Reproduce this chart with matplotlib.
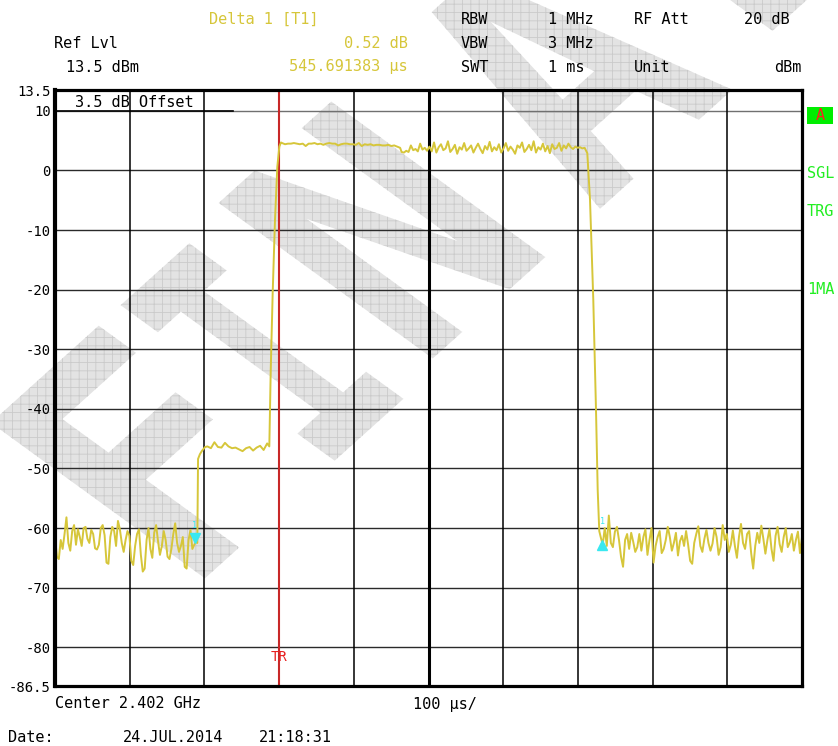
import numpy as np
import matplotlib
matplotlib.use("Agg")
import matplotlib.pyplot as plt
from matplotlib.textpath import TextPath
from matplotlib.patches import PathPatch, Rectangle
from matplotlib.font_manager import FontProperties
from matplotlib.transforms import Affine2D, IdentityTransform

# --- trace data (time in us, level in dBm) ---
noise_left = [-61.5, -64.8, -65.2, -62.0, -63.5, -61.0, -58.2, -62.5, -63.8, -60.5,
              -59.5, -62.8, -60.2, -61.5, -63.0, -60.0, -59.8, -61.8, -62.5, -60.3,
              -61.0, -63.4, -63.6, -62.8, -60.0, -59.5, -61.2, -65.8, -66.0, -61.5,
              -59.8, -60.5, -63.0, -58.8, -60.2, -62.5, -64.0, -62.0, -60.5, -61.3,
              -65.5, -66.2, -63.0, -61.0, -60.2, -64.5, -67.3, -66.8, -62.0, -60.0,
              -63.5, -65.0, -60.8, -59.5, -62.2, -64.5, -63.0, -60.5, -62.0, -64.8,
              -65.2, -63.5, -61.0, -59.2, -62.5, -64.0, -63.0, -61.5, -66.5, -66.8,
              -62.0, -60.3, -63.5, -62.8, -62.3]
step_t = [190.5, 191.5, 194.0, 197.0, 201.0]
step_db = [-62.5, -48.4, -47.6, -47.0, -46.4]
plateau = [-46.3, -46.6, -45.6, -46.4, -46.5, -45.7, -46.3, -46.6, -46.5, -46.8,
           -47.1, -46.6, -46.4, -47.0, -46.5, -46.2, -46.9, -45.8]
rise_t = [286.9, 288.8, 291.4, 294.5, 297.6, 300.3, 302.5]
rise_db = [-46.3, -33.5, -20.6, -8.3, 0.6, 4.0, 4.7]
top_flat = [4.6, 4.4, 4.5, 4.5, 4.6, 4.5, 4.4, 4.5, 4.1, 4.5, 4.5, 4.6, 4.4, 4.5,
            4.3, 4.5, 4.6, 4.5, 4.5, 4.2, 4.4, 4.5, 4.5, 4.4, 4.4, 4.3, 4.6, 4.1,
            4.4, 4.3, 4.4, 4.2, 4.3, 4.3, 4.2, 4.2, 4.3, 4.1, 4.2, 4.0, 3.8]
top_noisy = [3.1, 3.0, 3.3, 3.1, 4.2, 3.4, 3.6, 3.2, 4.5, 3.5, 3.8, 3.3, 4.0, 3.2,
             4.7, 3.0, 3.9, 4.4, 3.4, 3.7, 4.9, 3.1, 3.6, 4.3, 2.8, 3.9, 3.5, 4.6,
             3.3, 3.7, 4.2, 3.0, 3.8, 4.5, 3.6, 2.9, 4.1, 3.5, 4.8, 3.2, 3.9, 3.4,
             4.4, 3.0, 3.7, 4.6, 3.3, 4.0, 3.5, 2.8, 4.2, 3.8, 4.7, 3.1, 3.6, 4.3,
             3.4, 4.9, 3.0, 3.9, 3.5, 4.5, 3.2, 4.1, 2.9, 4.4, 3.6, 3.8, 4.6, 3.3,
             4.2, 3.7, 4.5, 3.9, 3.6, 4.0, 3.8, 3.9, 3.7, 3.8]
fall_t = [712.6, 716.2, 720.6, 724.2, 726.5, 728.6]
fall_db = [2.9, -4.9, -21.7, -40.0, -53.6, -60.5]
noise_right = [-61.5, -62.8, -60.0, -63.0, -57.9, -62.5, -63.2, -60.6, -59.8, -62.0,
               -64.8, -66.5, -62.0, -61.0, -63.5, -60.8, -62.3, -64.0, -63.2, -61.0,
               -63.8, -61.5, -60.2, -64.5, -62.0, -60.0, -65.8, -63.0, -61.5, -60.5,
               -64.2, -63.5, -62.0, -59.8, -61.5, -63.8, -62.5, -60.8, -64.6, -62.2,
               -61.3, -63.0, -60.5, -62.8, -65.5, -66.0, -62.5, -61.0, -59.7, -63.0,
               -64.0, -61.8, -60.3, -62.5, -63.8, -62.6, -60.0, -61.5, -64.5, -63.2,
               -59.5, -62.0, -61.0, -64.0, -62.8, -60.4, -63.0, -65.0, -61.5, -59.3,
               -62.5, -63.5, -61.0, -60.5, -64.2, -66.8, -63.0, -60.8, -62.5, -59.6,
               -61.8, -64.3, -62.0, -60.2, -63.5, -65.5, -61.3, -59.8, -62.7, -64.0,
               -61.5, -60.0, -63.2, -62.4, -61.0, -63.8, -62.0, -60.6, -64.2, -61.5]

marker1_t, marker1_db = 187.0, -62.3
delta_t, delta_db = 545.691383, 0.52
trigger_t = 300.0

ytick_vals = [13.5, 10, 0, -10, -20, -30, -40, -50, -60, -70, -80, -86.5]
ytick_labels = ["13.5", "10", "0", "-10", "-20", "-30", "-40", "-50", "-60", "-70", "-80", "-86.5"]
hgrid = [10, 0, -10, -20, -30, -40, -50, -60, -70, -80]
vgrid = [100, 200, 300, 400, 500, 600, 700, 800, 900]

watermark_letters = ["F", "I", "N", "A", "L"]

W, H = 838, 746
MONO = "DejaVu Sans Mono"
YEL = "#d6c63a"
GRN = "#22ee22"

t = np.concatenate([np.linspace(0, 189, len(noise_left)), step_t,
                    np.linspace(204, 284, len(plateau)), rise_t,
                    np.linspace(304, 462, len(top_flat)),
                    np.linspace(464, 709, len(top_noisy)), fall_t,
                    np.linspace(730.5, 1000, len(noise_right))])
db = np.concatenate([noise_left, step_db, plateau, rise_db, top_flat,
                     top_noisy, fall_db, noise_right])

plt.rcParams["hatch.linewidth"] = 0.6
fig = plt.figure(figsize=(W / 100, H / 100), dpi=100)
fig.patch.set_facecolor("white")
ax = fig.add_axes([55 / W, 1 - 686 / H, 747 / W, 596 / H])
ax.set_facecolor("none")

# watermark: letters placed one by one (centre in screen pixels, y from top)
wm_centres = [(115, 452), (262, 352), (382, 230), (582, 92), (718, -62)]
wm_xscale = [0.9, 0.6, 0.88, 0.88, 0.88]
wm_font = FontProperties(family=MONO, weight="bold")
for letter, (cx, cy), sx in zip(watermark_letters, wm_centres, wm_xscale):
    p = TextPath((0, 0), letter, size=355, prop=wm_font)
    p = Affine2D().scale(sx, 1.0).skew_deg(-12, 0).rotate_deg(42).transform_path(p)
    ext = p.get_extents()
    mx, my = (ext.x0 + ext.x1) / 2, (ext.y0 + ext.y1) / 2
    p = Affine2D().translate(cx - mx, (H - cy) - my).transform_path(p)
    fig.add_artist(PathPatch(p, transform=IdentityTransform(),
                             facecolor="#e3e3e3", edgecolor="#cacaca",
                             linewidth=0, hatch="++", zorder=-5))

# grid
for g in hgrid:
    ax.axhline(g, color="#707070" if g == 10 else "#2a2a2a", lw=1.0, zorder=1)
ax.plot([0, 238], [10, 10], color="black", lw=1.2, zorder=1)
for v in vgrid:
    ax.axvline(v, color="black", lw=2.2 if v == 500 else 1.1, zorder=1)
ax.axvline(trigger_t, color="#c82828", lw=1.5, zorder=2)

ax.plot(t, db, color=YEL, lw=1.4, zorder=3)

# markers
mk = "#3ae8f0"
ax.plot([marker1_t], [marker1_db + 0.7], marker="v", ms=7, color=mk, zorder=4)
ax.plot([marker1_t + delta_t], [marker1_db + delta_db - 1.0], marker="^", ms=7,
        color=mk, zorder=4)
for xx, yy in [(marker1_t, marker1_db + 2.8), (marker1_t + delta_t, marker1_db + delta_db + 2.8)]:
    ax.text(xx, yy, "1", color=mk, fontsize=6, ha="center", va="center", family=MONO)

ax.text(trigger_t, -81.6, "TR", color="#e82020", fontsize=10, ha="center",
        va="center", family=MONO)
ax.text(27, 11.4, "3.5 dB Offset", fontsize=11, family=MONO, va="center")

ax.set_xlim(0, 1000)
ax.set_ylim(-86.5, 13.5)
ax.set_xticks([])
ax.set_yticks(ytick_vals)
ax.set_yticklabels(ytick_labels, family=MONO, fontsize=10)
ax.tick_params(axis="y", length=0, pad=3)
for side in ["top", "bottom", "right"]:
    ax.spines[side].set_linewidth(2.3)
ax.spines["left"].set_linewidth(3.0)
for s in ax.spines.values():
    s.set_zorder(5)


def put(x, y, s, color="black", ha="left", size=11):
    fig.text(x / W, 1 - y / H, s, color=color, ha=ha, va="center",
             family=MONO, fontsize=size)


# header
put(209, 19, "Delta 1 [T1]", YEL)
put(54, 43, "Ref Lvl")
put(408, 43, "0.52 dB", YEL, ha="right")
put(66, 67, "13.5 dBm")
put(408, 67, "545.691383 µs", YEL, ha="right")
put(461, 19, "RBW")
put(461, 43, "VBW")
put(461, 67, "SWT")
put(548, 19, "1 MHz")
put(548, 43, "3 MHz")
put(548, 67, "1 ms")
put(634, 19, "RF Att")
put(634, 67, "Unit")
put(790, 19, "20 dB", ha="right")
put(801, 67, "dBm", ha="right")

# right side status
fig.add_artist(Rectangle((807 / W, 1 - 124 / H), 26 / W, 17 / H,
                         transform=fig.transFigure, facecolor="#00ee00",
                         edgecolor="none"))
put(820, 116, "A", "#ff2020", ha="center")
put(807, 173, "SGL", GRN)
put(807, 212, "TRG", GRN)
put(807, 290, "1MA", GRN)

# footer
put(55, 704, "Center 2.402 GHz")
put(413, 704, "100 µs/")
put(8, 737, "Date:")
put(123, 737, "24.JUL.2014")
put(259, 737, "21:18:31")

fig.savefig("out.png", dpi=100)
